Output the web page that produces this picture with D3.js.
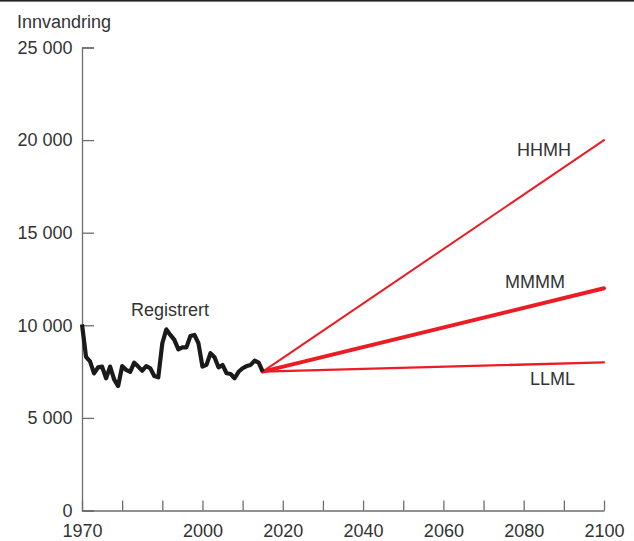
<!DOCTYPE html>
<html><head><meta charset="utf-8">
<script src="https://cdn.jsdelivr.net/npm/d3@7"></script>
<style>
body{margin:0;background:#fff;}
svg{display:block;font-family:"Liberation Sans",Arial,sans-serif;}
</style></head><body>
<svg id="c" width="634" height="541"></svg>
<script>
const regYears = [1970,1971,1972,1973,1974,1975,1976,1977,1978,1979,1980,1981,1982,1983,1984,1985,1986,1987,1988,1989,1990,1991,1992,1993,1994,1995,1996,1997,1998,1999,2000,2001,2002,2003,2004,2005,2006,2007,2008,2009,2010,2011,2012,2013,2014,2015];
const regValues = [10050,8300,8050,7400,7730,7770,7140,7770,7080,6720,7800,7590,7490,7980,7770,7550,7800,7680,7260,7190,9030,9780,9480,9210,8700,8810,8810,9420,9480,9030,7770,7860,8490,8270,7730,7860,7410,7370,7140,7490,7680,7800,7860,8090,7980,7500];
const scenarioNames = ["HHMH","MMMM","LLML"];
const scenarioYears = [2015,2100];
const scenarioHHMH = [7500,20000];
const scenarioMMMM = [7500,12000];
const scenarioLLML = [7500,8000];
const yTicks = [0,5000,10000,15000,20000,25000];
const xTicks = [1970,1980,1990,2000,2010,2020,2030,2040,2050,2060,2070,2080,2090,2100];
const xLabels = [1970,2000,2020,2040,2060,2080,2100];

const svg = d3.select("#c");
const x = d3.scaleLinear().domain([1970,2100]).range([82,604]);
const y = d3.scaleLinear().domain([0,25000]).range([510.5,47.5]);
const axisCol = "#6d6d6d", textCol = "#333";
const FS = 18, FONT = "Liberation Sans, Arial, sans-serif";

// top border
svg.append("rect").attr("x",0).attr("y",0).attr("width",634).attr("height",1.6).attr("fill","#222");

svg.append("text").attr("x",17).attr("y",28).attr("font-size",FS).attr("fill",textCol).text("Innvandring");

const fmt = d => d===0 ? "0" : d3.format(",")(d).replace(",", " ");
const gy = svg.append("g").attr("transform","translate(82,0)")
  .call(d3.axisLeft(y).tickValues(yTicks).tickSizeInner(-12).tickSizeOuter(-12).tickPadding(9.5).tickFormat(fmt));
const gx = svg.append("g").attr("transform","translate(0,510.5)")
  .call(d3.axisBottom(x).tickValues(xTicks).tickSizeInner(-10).tickSizeOuter(0).tickPadding(13.5)
    .tickFormat(d => xLabels.includes(d) ? d : ""));
[gy,gx].forEach(g=>{
  g.selectAll("path,line").attr("stroke",axisCol).attr("stroke-width",1.3);
  g.selectAll("text").attr("fill",textCol).attr("font-size",FS).attr("font-family",FONT);
});

const line = d3.line().x(d=>x(d[0])).y(d=>y(d[1]));
const red = "#ec1c24";
const scen = {HHMH:scenarioHHMH, MMMM:scenarioMMMM, LLML:scenarioLLML};
const widths = {HHMH:2, MMMM:4, LLML:2.4};
scenarioNames.forEach(n=>{
  svg.append("path").datum(scenarioYears.map((yr,i)=>[yr,scen[n][i]]))
    .attr("d",line).attr("fill","none").attr("stroke",red).attr("stroke-width",widths[n]).attr("stroke-linecap","round");
});
svg.append("path").datum(regYears.map((yr,i)=>[yr,regValues[i]]))
  .attr("d",line).attr("fill","none").attr("stroke","#1a1a1a").attr("stroke-width",4.2).attr("stroke-linejoin","round");

const lab = (t,xx,yy)=>svg.append("text").attr("x",xx).attr("y",yy).attr("font-size",FS).attr("fill",textCol).text(t);
lab("Registrert",131,316);
lab("HHMH",517,156);
lab("MMMM",505,288);
lab("LLML",530,384.5);
</script></body></html>
